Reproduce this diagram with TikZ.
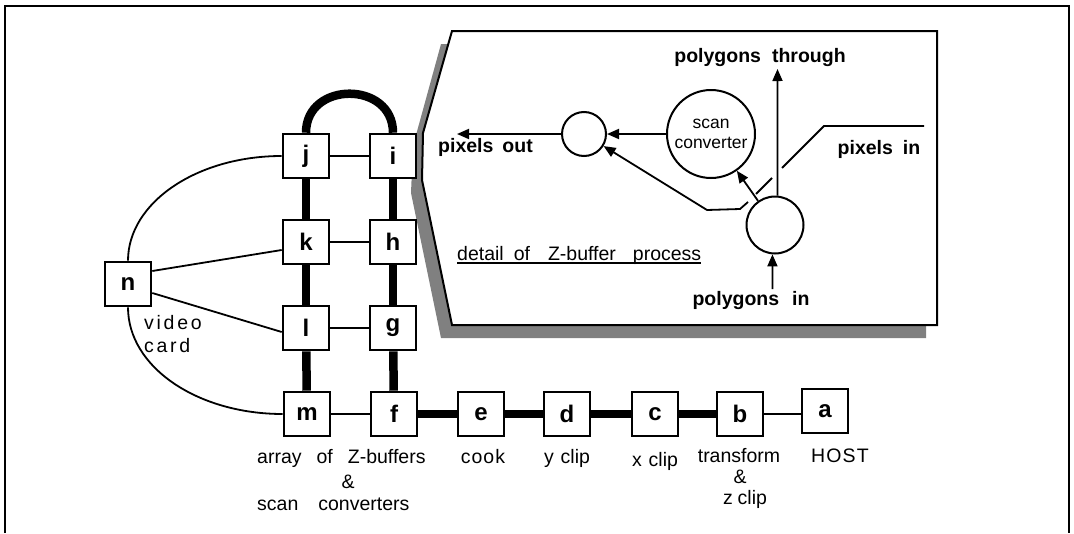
\documentclass[tikz,border=0pt]{standalone}
\usepackage{fontspec}
\setmainfont{Liberation Sans}
\usetikzlibrary{arrows.meta}
\begin{document}
\begin{tikzpicture}[x=1pt,y=-1pt,
  blk/.style={draw,line width=2.6pt,fill=white,minimum width=46pt,minimum height=44pt,inner sep=0pt,font=\fontsize{24}{26}\selectfont\bfseries},
  bus/.style={line width=8.5pt},
  thinln/.style={line width=1.8pt},
  lbl/.style={font=\fontsize{19.5}{22}\selectfont,inner sep=0pt},
  blbl/.style={font=\fontsize{19.5}{22}\selectfont\bfseries,inner sep=0pt},
  arr/.style={line width=1.8pt,-{Triangle[length=12pt,width=10pt]}},
  circ/.style={draw,circle,line width=2pt,inner sep=0pt,fill=white},
]
\useasboundingbox (0,0) rectangle (1074,533);
% outer frame
\draw[line width=2pt] (5,533) -- (5,6) -- (1069,6) -- (1069,533);
% detail box with shadow
\fill[black!50] (441,44) -- (926,44) -- (926,338) -- (441,338) -- (411,193) -- (413,146) -- cycle;
\draw[line width=2pt,fill=white] (452,31) -- (937,31) -- (937,325) -- (452,325) -- (422,180) -- (423,133) -- cycle;

% array boxes
\node[blk] (j) at (306,156) {j};
\node[blk] (i) at (393,156) {i};
\node[blk] (k) at (306,242) {k};
\node[blk] (h) at (393,242) {h};
\node[blk] (l) at (306,328) {l};
\node[blk] (g) at (393,328) {g};
\node[blk] (m) at (307,414) {m};
\node[blk] (f) at (394,414) {f};
\node[blk] (n) at (128,284) {n};
% pipeline boxes
\node[blk] (e) at (481,414) {e};
\node[blk] (d) at (567,414) {d};
\node[blk] (c) at (655,414) {c};
\node[blk] (b) at (740,414) {b};
\node[blk] (a) at (825,411) {a};

% thick buses
\draw[bus] (j) -- (k);
\draw[bus] (k) -- (l);
\draw[bus] (l) -- (m);
\draw[bus] (i) -- (h);
\draw[bus] (h) -- (g);
\draw[bus] (g) -- (f);
\draw[bus] (j.north) .. controls +(0,-52) and +(0,-52) .. (i.north);
\draw[bus] (f) -- (e);
\draw[bus] (e) -- (d);
\draw[bus] (d) -- (c);
\draw[bus] (c) -- (b);
\draw[thinln] (b) -- (b -| a.west);
% thin links
\draw[thinln] (j) -- (i);
\draw[thinln] (k) -- (h);
\draw[thinln] (l) -- (g);
\draw[thinln] (m) -- (f);
\draw[thinln] ([yshift=13pt]n.east) -- ([yshift=-8pt]k.west);
\draw[thinln] ([yshift=-9pt]n.east) -- ([yshift=-4pt]l.west);
\draw[thinln] (n.north) .. controls +(0,-58) and +(-85,0) .. (j.west);
\draw[thinln] (n.south) .. controls +(0,60) and +(-85,0) .. (m.west);

% labels left
\node[lbl,anchor=base west] (vid) at (144,329) {\addfontfeature{LetterSpace=14}video};
\node[lbl,anchor=base west] (crd) at (144,352) {\addfontfeature{LetterSpace=14}card};
\node[lbl,anchor=base west] (arr1) at (257,463) {array\hspace{15pt}of\hspace{15pt}Z-buffers};
\node[lbl,anchor=base] (amp1) at (348,488) {\&};
\node[lbl,anchor=base west] (scv) at (257,510) {scan\hspace{20pt}converters};
\node[lbl,anchor=base] (cook) at (483,463) {\addfontfeature{LetterSpace=5}cook};
\node[lbl,anchor=base] (ycl) at (567,463) {y\hspace{7pt}clip};
\node[lbl,anchor=base] (xcl) at (655,466) {x\hspace{7pt}clip};
\node[lbl,anchor=base] (tr) at (739,462) {transform};
\node[lbl,anchor=base] (amp2) at (740,483) {\&};
\node[lbl,anchor=base] (zcl) at (745,504) {z\hspace{5pt}clip};
\node[lbl,anchor=base] (host) at (840,462) {\addfontfeature{LetterSpace=6}HOST};

% detail of Z-buffer process
\node[circ,minimum size=88pt,align=center,font=\fontsize{17.5}{20}\selectfont] (sc) at (711,134) {scan\\converter};
\node[circ,minimum size=44pt] (s2) at (584,134) {};
\node[circ,minimum size=57pt] (bc) at (775,225) {};
\coordinate (po) at (457,134);
\coordinate (pt) at (777.5,69);
\coordinate (pin) at (772.5,289);
\draw[arr] (s2) -- (po);
\draw[arr] (sc) -- (s2);
\draw[arr] (bc) -- (sc);
\draw[arr] (bc.85) -- (pt);
\draw[arr] (pin) -- (bc.-95);
\coordinate (p0) at (924,126);
\coordinate (p1) at (824,126);
\draw[line width=1.8pt] (p0) -- (p1) -- (782,168);
\draw[line width=1.8pt] (772,178) -- (756,194);
\draw[arr] (748,202) -- (740,209) -- (707,210) -- (s2);

\node[blbl,anchor=base west] (pout) at (438,152) {pixels\hspace{9pt}out};
\node[blbl,anchor=base] (pthr) at (760,62) {polygons\hspace{11pt}through};
\node[blbl,anchor=base] (pxin) at (879,154) {pixels\hspace{10pt}in};
\node[blbl,anchor=base] (pgin) at (751,305) {polygons\hspace{13pt}in};
\node[lbl,anchor=base west] (det) at (457,260) {detail\hspace{10pt}of\hspace{18pt}Z-buffer\hspace{17pt}process};
\draw[line width=1.2pt] ([yshift=-3pt]det.base west) -- ([yshift=-3pt]det.base east);
\end{tikzpicture}
\end{document}
